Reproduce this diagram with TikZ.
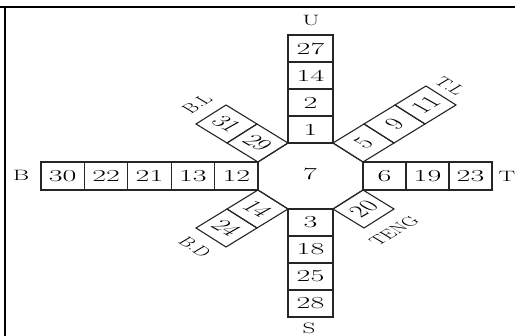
\documentclass[tikz,border=0pt]{standalone}
\usepackage{fontspec}
\newcommand{\armfont}{\fontsize{25}{25}\selectfont}
\newcommand{\diagfont}{\fontsize{22}{22}\selectfont}
\newcommand{\digfont}{\fontsize{30}{30}\selectfont}
\begin{document}
\begin{tikzpicture}[x=1pt,y=-1pt,
  cell/.style={draw=black!85, line width=1.1pt, line join=miter},
  dig/.style={font=\digfont, yscale=0.56, inner sep=0pt},
  armlabel/.style={font=\armfont, yscale=0.6, inner sep=0pt},
  diaglabel/.style={font=\diagfont, yscale=0.6, inner sep=0pt}]
\useasboundingbox (0,0) rectangle (515,336);
\fill[white] (0,0) rectangle (515,336);
% frame
\draw[line width=2.2pt] (0,7) -- (515,7);
\draw[line width=2pt] (5,7) -- (5,336);
% octagon
\draw[cell] (288,143) -- (333,143) -- (363,162) -- (363,190) -- (333,209) -- (288,209) -- (258,190) -- (258,162) -- cycle;
\node[dig] (c7) at (310,174) {7};
% U arm
\foreach \ya/\yb/\t in {143/116/1, 116/89/2, 89/62/14, 62/35/27} {
  \draw[cell] (288,\ya) rectangle (333,\yb);
  \node[dig] (u\t) at (310.5,{(\ya+\yb)/2}) {\t};
}
% S arm
\foreach \ya/\yb/\t in {209/236/3, 236/263/18, 263/290/25, 290/317/28} {
  \draw[cell] (288,\ya) rectangle (333,\yb);
  \node[dig] (s\t) at (310.5,{(\ya+\yb)/2}) {\t};
}
% B arm
\foreach \xa/\xb/\t in {258/214.6/12, 214.6/171.2/13, 171.2/127.8/21, 127.8/84.4/22, 84.4/41/30} {
  \draw[cell] (\xa,162) rectangle (\xb,190);
  \node[dig] (b\t) at ({(\xa+\xb)/2},176) {\t};
}
% T arm
\foreach \xa/\xb/\t in {363/406/6, 406/449/19, 449/492/23} {
  \draw[cell] (\xa,162) rectangle (\xb,190);
  \node[dig] (t\t) at ({(\xa+\xb)/2},176) {\t};
}
% TL arm
\draw[cell] (333,143) -- (363,162) -- (394,143) -- (364,124) -- cycle;
\draw[cell] (364,124) -- (394,143) -- (425,124) -- (395,105) -- cycle;
\draw[cell] (395,105) -- (425,124) -- (456,105) -- (426,86) -- cycle;
\node[dig, rotate=45] (tl5) at (363.5,143) {5};
\node[dig, rotate=45] (tl9) at (394.5,124) {9};
\node[dig, rotate=45] (tl11) at (425.5,105) {11};
% TENG arm
\draw[cell] (363,190) -- (394,209) -- (364,228) -- (333,209) -- cycle;
\node[dig, rotate=45] (te20) at (363.5,209) {20};
% BD arm
\draw[cell] (258,190) -- (288,209) -- (257,228) -- (227,209) -- cycle;
\draw[cell] (227,209) -- (257,228) -- (226,247) -- (196,228) -- cycle;
\node[dig, rotate=-45] (bd14) at (257.5,209) {14};
\node[dig, rotate=-45] (bd24) at (226.5,228) {24};
% BL arm
\draw[cell] (258,162) -- (288,143) -- (257,124) -- (227,143) -- cycle;
\draw[cell] (227,143) -- (257,124) -- (226,105) -- (196,124) -- cycle;
\node[dig, rotate=-45] (bl29) at (257.5,143) {29};
\node[dig, rotate=-45] (bl31) at (226.5,124) {31};
% labels
\node[armlabel] (lU) at (311,21) {U};
\node[armlabel] (lS) at (309,328) {S};
\node[armlabel] (lB) at (21,175) {B};
\node[armlabel] (lT) at (507,176) {T};
\node[diaglabel, rotate=-45] (lTL) at (450,86) {T.L};
\node[diaglabel, rotate=45] (lBL) at (197,104) {B.L};
\node[diaglabel, rotate=-45] (lBD) at (195,247) {B.D};
\node[diaglabel, rotate=45] (lTE) at (394,231) {TENG};
\end{tikzpicture}
\end{document}
